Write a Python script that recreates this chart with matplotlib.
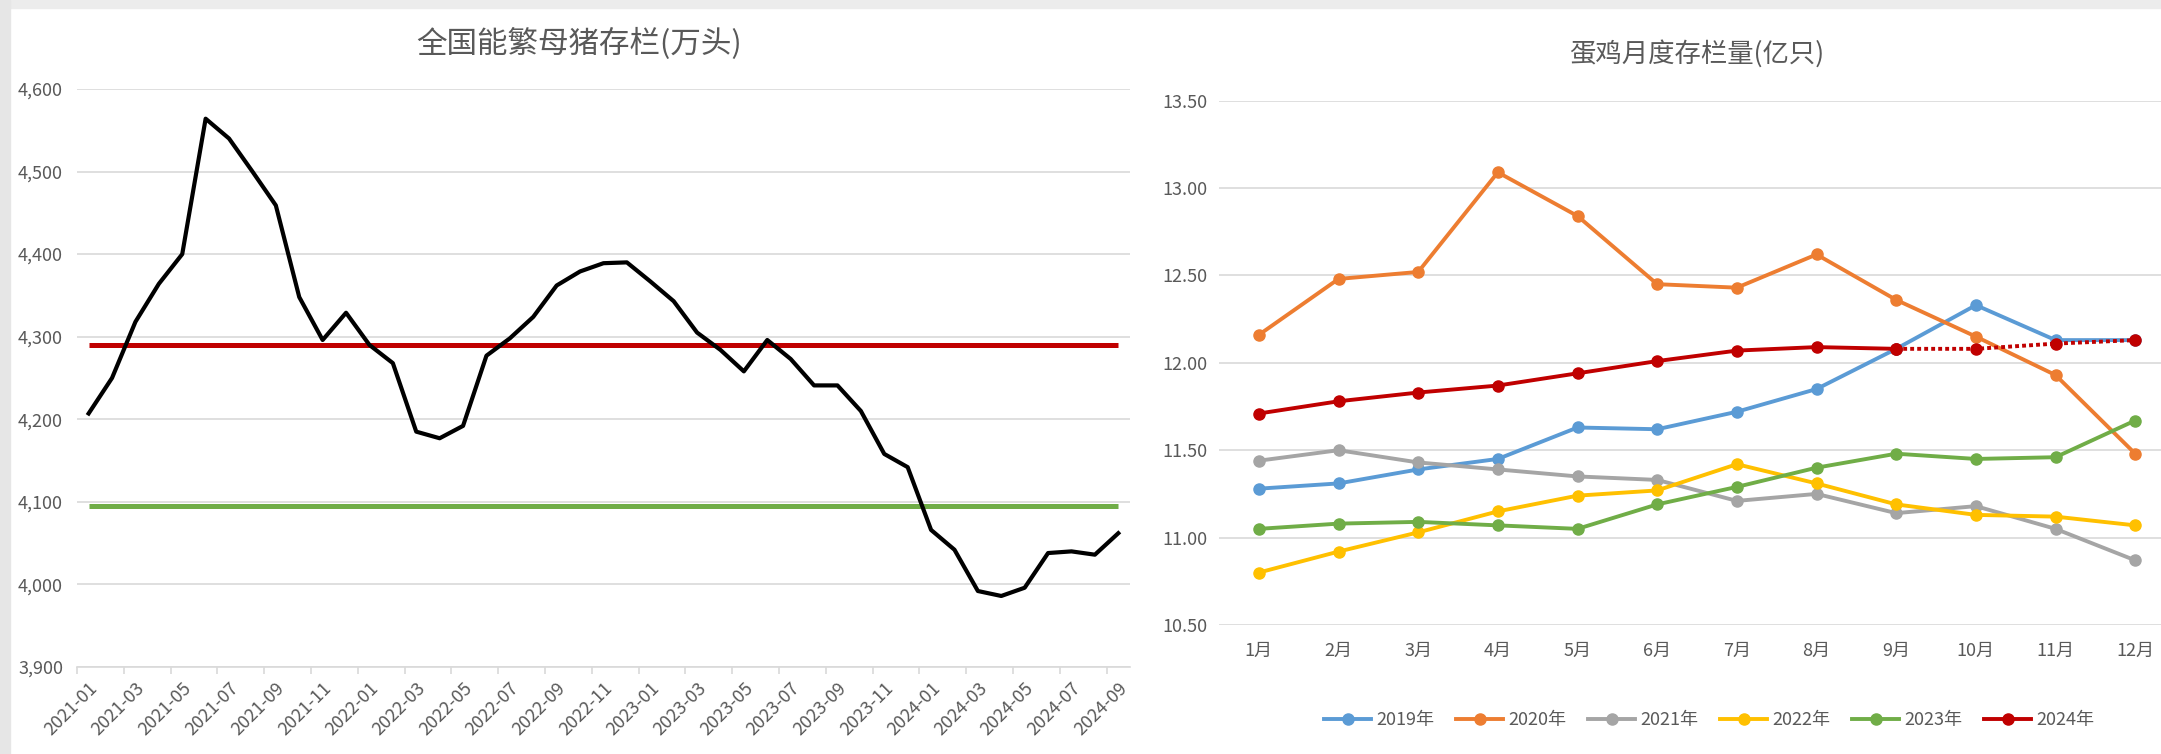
import numpy as np
import matplotlib
matplotlib.use("Agg")
from matplotlib import pyplot as plt
from matplotlib.patches import Rectangle

plt.rcParams['font.family'] = ['Noto Sans CJK SC', 'DejaVu Sans']

# left chart: capable breeding sows (10k head), 2021-01 .. 2024-09
sow_months = ['2021-01', '2021-02', '2021-03', '2021-04', '2021-05', '2021-06',
              '2021-07', '2021-08', '2021-09', '2021-10', '2021-11', '2021-12',
              '2022-01', '2022-02', '2022-03', '2022-04', '2022-05', '2022-06',
              '2022-07', '2022-08', '2022-09', '2022-10', '2022-11', '2022-12',
              '2023-01', '2023-02', '2023-03', '2023-04', '2023-05', '2023-06',
              '2023-07', '2023-08', '2023-09', '2023-10', '2023-11', '2023-12',
              '2024-01', '2024-02', '2024-03', '2024-04', '2024-05', '2024-06',
              '2024-07', '2024-08', '2024-09']
sow_values = [4207, 4250, 4318, 4364, 4400, 4564, 4540, 4500, 4459, 4348,
              4296, 4329, 4290, 4268, 4185, 4177, 4192, 4277, 4298, 4324,
              4362, 4379, 4389, 4390, 4367, 4343, 4305, 4284, 4258, 4296,
              4273, 4241, 4241, 4210, 4158, 4142, 4066, 4042, 3992, 3986,
              3996, 4038, 4040, 4036, 4062]
red_level = 4290
green_level = 4095

# right chart: laying hens inventory (100m birds)
hen_months = ['1月', '2月', '3月', '4月', '5月', '6月',
              '7月', '8月', '9月', '10月', '11月', '12月']
hen_2019 = [11.28, 11.31, 11.39, 11.45, 11.63, 11.62, 11.72, 11.85, 12.08, 12.33, 12.13, 12.13]
hen_2020 = [12.16, 12.48, 12.52, 13.09, 12.84, 12.45, 12.43, 12.62, 12.36, 12.15, 11.93, 11.48]
hen_2021 = [11.44, 11.50, 11.43, 11.39, 11.35, 11.33, 11.21, 11.25, 11.14, 11.18, 11.05, 10.87]
hen_2022 = [10.80, 10.92, 11.03, 11.15, 11.24, 11.27, 11.42, 11.31, 11.19, 11.13, 11.12, 11.07]
hen_2023 = [11.05, 11.08, 11.09, 11.07, 11.05, 11.19, 11.29, 11.40, 11.48, 11.45, 11.46, 11.67]
hen_2024 = [11.71, 11.78, 11.83, 11.87, 11.94, 12.01, 12.07, 12.09, 12.08]
hen_2024_fcst = [12.08, 12.08, 12.11, 12.13]   # 9月..12月, dotted

year_labels = ['2019年', '2020年', '2021年', '2022年', '2023年', '2024年']
year_colors = ['#5B9BD5', '#ED7D31', '#A5A5A5', '#FFC000', '#70AD47', '#C00000']

txt = '#595959'
grid = '#d9d9d9'

fig = plt.figure(figsize=(21.61, 7.54), dpi=100)
fig.patches.append(Rectangle((0, 0.989), 1, 0.011, transform=fig.transFigure,
                             color='#ececec', zorder=0))
fig.patches.append(Rectangle((0, 0), 0.0045, 1, transform=fig.transFigure,
                             color='#e6e6e6', zorder=0))

# ---- left chart
ax1 = fig.add_axes([0.0356, 0.1154, 0.4873, 0.7666])
x = np.arange(len(sow_values))
ax1.hlines(red_level, 0, len(x) - 1, color='#C00000', lw=3.6, zorder=2)
ax1.hlines(green_level, 0, len(x) - 1, color='#70AD47', lw=3.6, zorder=2)
ax1.plot(x, sow_values, color='black', lw=3.0, zorder=3)
ax1.set_xlim(-0.5, len(x) - 0.5)
ax1.set_ylim(3900, 4600)
ax1.set_yticks(np.arange(3900, 4601, 100))
ax1.yaxis.set_major_formatter(matplotlib.ticker.StrMethodFormatter('{x:,.0f}'))
ax1.grid(axis='y', color=grid, lw=1.2)
ax1.set_axisbelow(True)
for s in ['top', 'right', 'left']:
    ax1.spines[s].set_visible(False)
ax1.spines['bottom'].set_color(grid)
ax1.spines['bottom'].set_linewidth(1.2)
ax1.set_xticks(x[::2])
ax1.set_xticklabels(sow_months[::2], rotation=45, ha='right', rotation_mode='anchor')
ax1.set_xticks(np.arange(-0.5, len(x) - 1, 2), minor=True)
ax1.tick_params(axis='x', which='major', length=0, pad=9, labelsize=13, labelcolor=txt)
ax1.tick_params(axis='x', which='minor', length=5, color=grid, width=1.2)
ax1.tick_params(axis='y', length=0, pad=10, labelsize=13, labelcolor=txt)
ax1.set_title('全国能繁母猪存栏(万头)', fontsize=22, color=txt, pad=26, x=0.477)

# ---- right chart
ax2 = fig.add_axes([0.5641, 0.1711, 0.4424, 0.6954])
m = np.arange(1, 13)
series = [hen_2019, hen_2020, hen_2021, hen_2022, hen_2023]
for vals, lab, col in zip(series, year_labels[:5], year_colors[:5]):
    ax2.plot(m, vals, color=col, lw=2.8, marker='o', ms=8, label=lab, zorder=3)
ax2.plot(m[:len(hen_2024)], hen_2024, color=year_colors[5], lw=2.8, marker='o',
         ms=8, label=year_labels[5], zorder=4)
ax2.plot(m[len(hen_2024) - 1:], hen_2024_fcst, color=year_colors[5], lw=2.8,
         ls=(0, (1, 0.8)), marker='o', ms=8, zorder=4)
ax2.set_xlim(0.5, 12.5)
ax2.set_ylim(10.5, 13.5)
ax2.set_yticks(np.arange(10.5, 13.51, 0.5))
ax2.yaxis.set_major_formatter(matplotlib.ticker.StrMethodFormatter('{x:.2f}'))
ax2.set_xticks(m)
ax2.set_xticklabels(hen_months)
ax2.grid(axis='y', color=grid, lw=1.2)
ax2.set_axisbelow(True)
for s in ax2.spines.values():
    s.set_visible(False)
ax2.tick_params(axis='x', length=0, pad=12, labelsize=13, labelcolor=txt)
ax2.tick_params(axis='y', length=0, pad=8, labelsize=13, labelcolor=txt)
ax2.set_title('蛋鸡月度存栏量(亿只)', fontsize=19, color=txt, pad=28)
fig.legend(loc='center', bbox_to_anchor=(0.791, 0.045), ncol=6, frameon=False,
           fontsize=13, labelcolor=txt, handlelength=2.6, columnspacing=1.2,
           handletextpad=0.3)

fig.savefig('out.png', dpi=100)
